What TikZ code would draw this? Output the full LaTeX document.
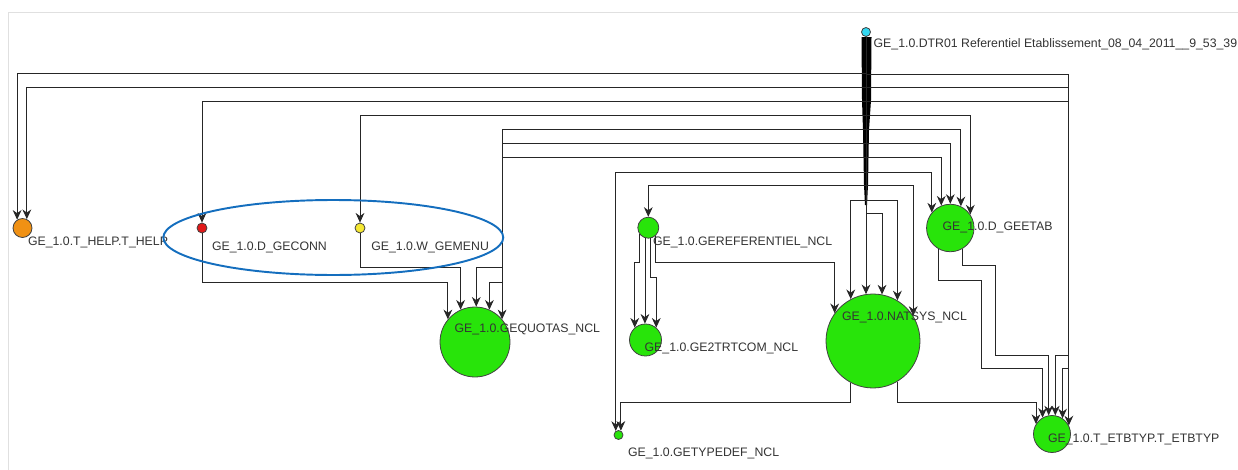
\documentclass[tikz,border=0pt]{standalone}
\usepackage{fontspec}
\setmainfont{Liberation Sans}
\usepackage{tikz}
\usetikzlibrary{arrows.meta}
\definecolor{nclgreen}{RGB}{40,228,10}
\definecolor{helporange}{RGB}{240,145,20}
\definecolor{connred}{RGB}{225,25,25}
\definecolor{menuyellow}{RGB}{245,232,50}
\definecolor{srccyan}{RGB}{50,215,240}
\definecolor{markblue}{RGB}{20,110,190}
\tikzset{>={Stealth[length=5.5pt,width=5pt]}}
\tikzset{
  tbl/.style = {circle, draw=black!75, line width=0.45pt, inner sep=0pt, fill=#1},
  ncl/.style = {tbl=nclgreen, minimum size=#1},
  lbl/.style = {anchor=base west, inner sep=0pt, text=black!80, font=\fontsize{7}{8}\selectfont},
  flow/.style = {->, draw=black!85, line width=0.5pt},
  annot/.style = {draw=markblue, line width=1.1pt}
}

\begin{document}
\begin{tikzpicture}[x=0.02cm, y=-0.02cm]
\useasboundingbox (0,0) rectangle (1238,470);
\draw [black!12] (8,470) -- (8,12) -- (1238,12);

% tables
\node [tbl=srccyan, minimum size=0.18cm] (dtr) at (866, 32) {};
\node [tbl=helporange, minimum size=0.38cm] (thelp) at (22.5, 228) {};
\node [tbl=connred, minimum size=0.2cm] (geconn) at (202, 228) {};
\node [tbl=menuyellow, minimum size=0.2cm] (gemenu) at (360, 228) {};
\node [ncl=1.4cm] (gequotas) at (475, 342) {};
\node [ncl=0.42cm] (geref) at (648.3, 227.7) {};
\node [ncl=0.64cm] (ge2trt) at (645.5, 340) {};
\node [ncl=0.18cm] (getypedef) at (618.5, 435) {};
\node [ncl=1.88cm] (natsys) at (873, 341) {};
\node [ncl=0.95cm] (geetab) at (950.3, 228) {};
\node [ncl=0.74cm] (etbtyp) at (1052, 434) {};

% bundle leaving DTR01
\fill [black] (861.5,37) -- (871.5,37) -- (871,100) -- (869,130) -- (868,185) -- (867,205)
  -- (865,205) -- (864,185) -- (863,130) -- (862,100) -- cycle;

% DTR01 -> left side
\draw [flow] (dtr.south) -- (dtr.south |- 0,73) -| (thelp.123);
\draw [flow] (dtr.south) -- (dtr.south |- 0,87) -| (thelp.64);
\draw [flow] (dtr.south) -- (dtr.south |- 0,101) -| (geconn.north);
\draw [flow] (dtr.south) -- (dtr.south |- 0,115) -| (gemenu.north);
\draw [flow] (dtr.south) -- (dtr.south |- 0,129) -| (gequotas.40);
\draw [flow] (dtr.south) -- (dtr.south |- 0,143) -| (502,267) -| (gequotas.88);
\draw [flow] (dtr.south) -- (dtr.south |- 0,157) -| (502,282) -| (gequotas.66);
\draw [flow] (dtr.south) -- (dtr.south |- 0,172) -| (getypedef.124);
\draw [flow] (dtr.south) -- (dtr.south |- 0,185) -| (geref.north);

% DTR01 -> right side
\draw [flow] (dtr.south) -- (dtr.south |- 0,74) -| (etbtyp.27);
\draw [flow] (dtr.south) -- (dtr.south |- 0,87) -| (1068,355) -| (etbtyp.80);
\draw [flow] (dtr.south) -- (dtr.south |- 0,101) -| (1068,368) -| (etbtyp.56);
\draw [flow] (dtr.south) -- (dtr.south |- 0,115) -| (geetab.34);
\draw [flow] (dtr.south) -- (dtr.south |- 0,129) -| (geetab.64);
\draw [flow] (dtr.south) -- (dtr.south |- 0,143) -| (geetab.north);
\draw [flow] (dtr.south) -- (dtr.south |- 0,157) -| (geetab.112);
\draw [flow] (dtr.south) -- (dtr.south |- 0,172) -| (geetab.140);
\draw [flow] (dtr.south) -- (dtr.south |- 0,185) -| (natsys.32);
\draw [flow] (dtr.south) -- (dtr.south |- 0,200) -| (natsys.118);
\draw [flow] (dtr.south) -- (dtr.south |- 0,200) -| (natsys.59);
\draw [flow] (dtr.south) -- (dtr.south |- 0,213) -| (natsys.79);
\draw [flow] (dtr.south) -- (dtr.south |- natsys.99);

% other links
\draw [flow] (geconn.south) -- (geconn.south |- 0,282) -| (gequotas.140);
\draw [flow] (gemenu.south) -- (gemenu.south |- 0,267) -| (gequotas.114);
\draw [flow] (geref.218) -- (geref.218 |- 0,262) -| (ge2trt.131);
\draw [flow] (geref.252) -- (geref.252 |- ge2trt.north);
\draw [flow] (geref.280) -- (geref.280 |- 0,277) -| (ge2trt.49);
\draw [flow] (geref.310) -- (geref.310 |- 0,262) -| (natsys.144);
\draw [flow] (geetab.240) -- (geetab.240 |- 0,280) -| (981,368) -| (etbtyp.120);
\draw [flow] (geetab.300) -- (geetab.300 |- 0,265) -| (995,355) -| (etbtyp.100);
\draw [flow] (natsys.242) -- (natsys.242 |- 0,402) -| (getypedef.61);
\draw [flow] (natsys.301) -- (natsys.301 |- 0,402) -| (etbtyp.148);

% labels
\node [lbl] (dtr-l) at (873.3, 47.3) {GE\_1.0.DTR01 Referentiel Etablissement\_08\_04\_2011\_\_9\_53\_39};
\node [lbl] (thelp-l) at (27.7, 245.7) {GE\_1.0.T\_HELP.T\_HELP};
\node [lbl] (geconn-l) at (211.7, 250.7) {GE\_1.0.D\_GECONN};
\node [lbl] (gemenu-l) at (371, 250) {GE\_1.0.W\_GEMENU};
\node [lbl] (gequotas-l) at (454.3, 332.7) {GE\_1.0.GEQUOTAS\_NCL};
\node [lbl] (geref-l) at (652.7, 245) {GE\_1.0.GEREFERENTIEL\_NCL};
\node [lbl] (ge2trt-l) at (644.3, 351.7) {GE\_1.0.GE2TRTCOM\_NCL};
\node [lbl] (getypedef-l) at (627.7, 456.7) {GE\_1.0.GETYPEDEF\_NCL};
\node [lbl] (natsys-l) at (841.7, 320) {GE\_1.0.NATSYS\_NCL};
\node [lbl] (geetab-l) at (942.3, 230.7) {GE\_1.0.D\_GEETAB};
\node [lbl] (etbtyp-l) at (1047.7, 442.3) {GE\_1.0.T\_ETBTYP.T\_ETBTYP};

% marked pair
\draw [annot] (333.3, 237.5) ellipse [x radius=3.4cm, y radius=0.75cm];
\end{tikzpicture}
\end{document}
